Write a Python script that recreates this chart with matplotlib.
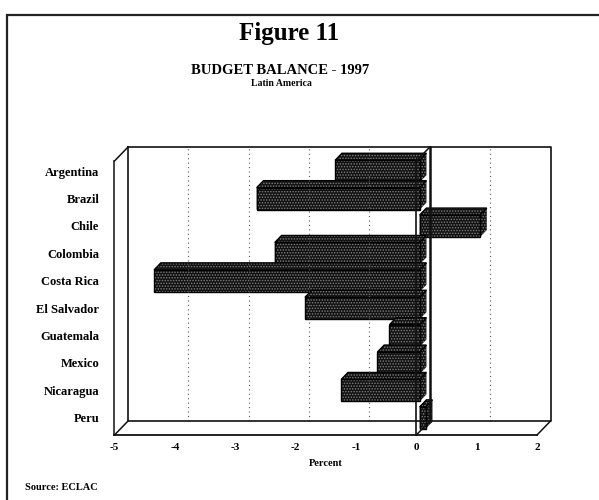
import matplotlib
matplotlib.use("Agg")
import matplotlib.pyplot as plt
from matplotlib.patches import Polygon, Rectangle

plt.rcParams["font.family"] = ["Liberation Serif", "DejaVu Serif"]
plt.rcParams["font.weight"] = "bold"
plt.rcParams["hatch.color"] = "#808080"
plt.rcParams["hatch.linewidth"] = 0.7

countries = ["Argentina", "Brazil", "Chile", "Colombia", "Costa Rica",
             "El Salvador", "Guatemala", "Mexico", "Nicaragua", "Peru"]
balance = [-1.4, -2.7, 1.0, -2.4, -4.4, -1.9, -0.5, -0.7, -1.3, 0.1]
xticks = [-5, -4, -3, -2, -1, 0, 1, 2]

XMIN, XMAX = -5, 2
N = len(countries)
DX, DY = 0.224, 0.51        # depth offset of the back wall, data units
F0, F1 = 0.25, 0.75         # bar front / back as fraction of depth
BAR_H = 0.8
ink = "#111111"

fig = plt.figure(figsize=(5.99, 5.0), dpi=100)
fig.patch.set_facecolor("white")

# outer frame of the page
fig.add_artist(Rectangle((7 / 599, -0.1), 1.2, 0.97 + 0.1, transform=fig.transFigure,
                         fill=False, edgecolor="#222222", lw=1.6))

ax = fig.add_axes([114.5 / 599, 65 / 500, 422.5 / 599, 274 / 500])
ax.set_xlim(XMIN, XMAX)
ax.set_ylim(0, N)
for sp in ax.spines.values():
    sp.set_visible(False)
ax.patch.set_alpha(0)


def line(xs, ys, **kw):
    kw.setdefault("color", ink)
    kw.setdefault("lw", 1.1)
    ax.plot(xs, ys, clip_on=False, solid_capstyle="projecting", **kw)


# back wall gridlines (dotted)
for t in xticks:
    if t in (XMIN, XMAX, 0):
        continue
    line([t + DX, t + DX], [DY, N + DY], color="#555555", lw=0.8, ls=(0, (1, 3)))

# back wall
line([XMIN + DX, XMAX + DX, XMAX + DX, XMIN + DX, XMIN + DX],
     [N + DY, N + DY, DY, DY, N + DY], lw=1.2)
# floor
line([XMIN, XMAX], [0, 0], lw=1.3)
line([XMIN, XMIN + DX], [0, DY])
line([XMAX, XMAX + DX], [0, DY])
# left wall
line([XMIN, XMIN], [0, N])
line([XMIN, XMIN + DX], [N, N + DY])

# zero wall
ax.add_patch(Polygon([[0, 0], [DX, DY], [DX, N + DY], [0, N]], closed=True,
                     facecolor="white", edgecolor="none", clip_on=False))
line([0, 0], [0, N], lw=1.2)
line([DX, DX], [DY, N + DY], lw=1.8)
line([0, DX], [N, N + DY])
line([0, DX], [0, DY])

# bars: front face, top face and end face, mid-depth
for i, v in enumerate(balance):
    yc = N - i - 0.5
    y0 = yc - BAR_H / 2 + F0 * DY
    y1 = yc + BAR_H / 2 + F0 * DY
    x0 = F0 * DX
    ox, oy = (F1 - F0) * DX, (F1 - F0) * DY
    lo, hi = min(x0, x0 + v), max(x0, x0 + v)
    front = [[lo, y0], [hi, y0], [hi, y1], [lo, y1]]
    top = [[lo, y1], [hi, y1], [hi + ox, y1 + oy], [lo + ox, y1 + oy]]
    side = [[hi, y0], [hi + ox, y0 + oy], [hi + ox, y1 + oy], [hi, y1]]
    left = [[lo, y0], [lo + ox, y0 + oy], [lo + ox, y1 + oy], [lo, y1]]
    for poly in (left, side, top, front):
        ax.add_patch(Polygon(poly, closed=True, facecolor=ink,
                             hatch="......", clip_on=False))
    for poly in (top, front):
        ax.add_patch(Polygon(poly, closed=True, fill=False, edgecolor="black",
                             lw=1.0, clip_on=False))

ax.set_xticks(xticks)
ax.set_xticklabels([str(t) for t in xticks], fontsize=8)
ax.set_yticks([N - i - 0.5 + 0.13 for i in range(N)])
ax.set_yticklabels(countries, fontsize=9)
ax.tick_params(length=0)
ax.tick_params(axis="x", pad=6)
ax.tick_params(axis="y", pad=11)
ax.set_xlabel("Percent", fontsize=7.5, fontweight="bold", labelpad=5)

fig.text(289 / 599, 1 - 33 / 500, "Figure 11", ha="center", va="center",
         fontsize=18, fontweight="bold")
fig.text(280 / 599, 1 - 70 / 500, "BUDGET BALANCE - 1997", ha="center", va="center",
         fontsize=10.5, fontweight="bold")
fig.text(281 / 599, 1 - 84 / 500, "Latin America", ha="center", va="center",
         fontsize=7, fontweight="bold")
fig.text(25 / 599, 1 - 488 / 500, "Source: ECLAC", ha="left", va="center",
         fontsize=7.5, fontweight="bold")

fig.savefig("out.png", dpi=100, facecolor="white")
